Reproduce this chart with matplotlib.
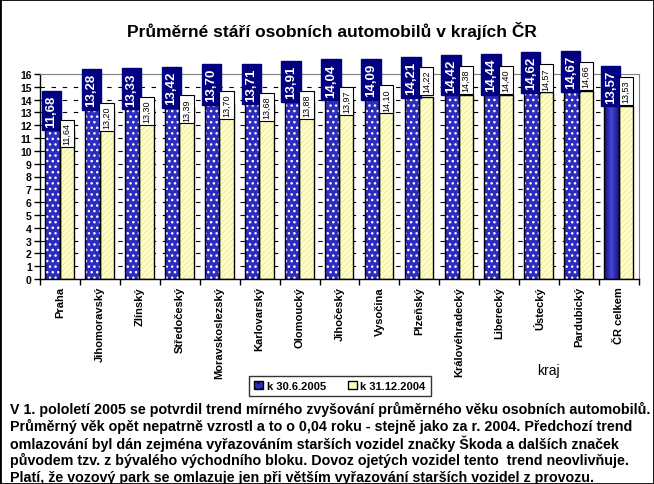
import matplotlib
matplotlib.use("Agg")
import matplotlib.pyplot as plt
import numpy as np
from matplotlib.patches import Patch, Rectangle
from matplotlib.colors import LinearSegmentedColormap

plt.rcParams['font.family'] = ['Liberation Sans', 'DejaVu Sans']

# data
kraje = ['Praha', 'Jihomoravský', 'Zlínský', 'Středočeský', 'Moravskoslezský',
         'Karlovarský', 'Olomoucký', 'Jihočeský', 'Vysočina', 'Plzeňský',
         'Královéhradecký', 'Liberecký', 'Ústecký', 'Pardubický', 'ČR celkem']
stari_2005 = [11.68, 13.28, 13.33, 13.42, 13.70, 13.71, 13.91, 14.04, 14.09,
              14.21, 14.42, 14.44, 14.62, 14.67, 13.57]
stari_2004 = [11.64, 13.20, 13.30, 13.39, 13.70, 13.68, 13.88, 13.97, 14.10,
              14.22, 14.38, 14.40, 14.57, 14.66, 13.53]
serie = ['k 30.6.2005', 'k 31.12.2004']
y_ticks = list(range(0, 17))

# where the 2004 labels were dragged to (bottom of the box, in axis units)
lbl_2004_bottom = [10.38, 11.63, 12.10, 12.25, 12.57, 12.45, 12.60, 12.88, 13.03,
                   14.44, 14.52, 14.52, 14.67, 14.83, 13.66]

title = 'Průměrné stáří osobních automobilů v krajích ČR'
poznamka = [
    'V 1. pololetí 2005 se potvrdil trend mírného zvyšování průměrného věku osobních automobilů.',
    'Průměrný věk opět nepatrně vzrostl a to o 0,04 roku - stejně jako za r. 2004. Předchozí trend',
    'omlazování byl dán zejména vyřazováním starších vozidel značky Škoda a dalších značek',
    'původem tzv. z bývalého východního bloku. Dovoz ojetých vozidel tento  trend neovlivňuje.',
    'Platí, že vozový park se omlazuje jen při větším vyřazování starších vozidel z provozu.',
]

blue = '#2c2cc0'
yellow = '#ffffc4'
navy = '#000080'

fig = plt.figure(figsize=(6.54, 4.85), dpi=100)
ax = fig.add_axes([40 / 654, 1 - 280 / 485, 599 / 654, 205 / 485])

x = np.arange(len(kraje))
w = 0.36
x_blue = x - 0.19
x_yel = x + 0.17

# blue bars: dotted fill, then black outline on top
n = len(kraje)
ax.bar(x_blue[:n - 1], stari_2005[:n - 1], w, color=blue, hatch='...',
       edgecolor='white', linewidth=0, zorder=2)
ax.bar(x_blue, stari_2005, w, color='none', edgecolor='black', linewidth=1, zorder=3)

# total bar gets a gradient instead of dots
grad_cmap = LinearSegmentedColormap.from_list('g', ['#14145a', '#2a2aa8', '#4646dc', '#2a2ab0', '#1c1c78'])
grad = np.linspace(0, 1, 64).reshape(1, -1)
ax.imshow(grad, cmap=grad_cmap, aspect='auto', zorder=2,
          extent=[x_blue[-1] - w / 2, x_blue[-1] + w / 2, 0, stari_2005[-1]])

# yellow bars with faint diagonal hatch
plt.rcParams['hatch.linewidth'] = 0.6
ax.bar(x_yel, stari_2004, w, color=yellow, hatch='//////', edgecolor='#ece6a8',
       linewidth=0, zorder=2)
ax.bar(x_yel, stari_2004, w, color='none', edgecolor='black', linewidth=1, zorder=3)

# data labels
for i in range(n):
    ax.text(x_blue[i] - 0.02, stari_2005[i] + 0.2, f'{stari_2005[i]:.2f}'.replace('.', ','),
            rotation=90, ha='center', va='bottom', color='white', fontsize=9.5,
            fontweight='bold', zorder=5,
            bbox=dict(boxstyle='square,pad=0.28', facecolor=navy, edgecolor=navy))
    ax.text(x_yel[i], lbl_2004_bottom[i] + 0.12, f'{stari_2004[i]:.2f}'.replace('.', ','),
            rotation=90, ha='center', va='bottom', color='black', fontsize=6.5,
            zorder=6,
            bbox=dict(boxstyle='square,pad=0.3', facecolor='white', edgecolor='black',
                      linewidth=0.8))

ax.set_xlim(-0.5, n - 0.5)
ax.set_ylim(0, 16)
ax.set_yticks(y_ticks)
ax.set_yticklabels([str(t) for t in y_ticks], fontsize=7.5, fontweight='bold')
ax.tick_params(axis='y', length=4, width=1, pad=2)

ax.set_xticks(np.arange(-0.5, n, 1.0), minor=True)
ax.set_xticks(x)
ax.set_xticklabels(kraje, rotation=90, fontsize=8, fontweight='bold', va='top')
ax.tick_params(axis='x', which='major', length=0, pad=5)
ax.tick_params(axis='x', which='minor', length=4, width=1)

# dashed grid
for t in y_ticks[1:-1]:
    ax.axhline(t, color='black', linestyle=(0, (4, 6)), linewidth=0.8, zorder=1)

ax.spines['top'].set_color('#808080')
ax.spines['right'].set_color('#808080')
ax.spines['left'].set_linewidth(1)
ax.spines['bottom'].set_linewidth(1)

fig.text(332 / 654, 1 - 31 / 485, title, ha='center', va='center', fontsize=12.5,
         fontweight='bold')
fig.text(548 / 654, 1 - 371 / 485, 'kraj', ha='center', va='center', fontsize=10)

handles = [Patch(facecolor=blue, edgecolor='black', hatch='...', label=serie[0]),
           Patch(facecolor=yellow, edgecolor='black', label=serie[1])]
leg = fig.legend(handles=handles, loc='center', bbox_to_anchor=(340 / 654, 1 - 387 / 485),
                 ncol=2, frameon=True, fancybox=False, edgecolor='black',
                 prop={'size': 8, 'weight': 'bold'}, handlelength=0.8, handleheight=0.8,
                 handletextpad=0.3, columnspacing=2.0, borderpad=0.45)
leg.get_frame().set_linewidth(1)

for k, line in enumerate(poznamka):
    fig.text(10 / 654, 1 - (409 + 17.3 * k) / 485, line, ha='left', va='center',
             fontsize=10.3, fontweight='bold')

fig.patches.append(Rectangle((0, 0), 1, 1, transform=fig.transFigure, fill=False,
                             edgecolor='black', linewidth=2))

fig.savefig('out.png', dpi=100)
